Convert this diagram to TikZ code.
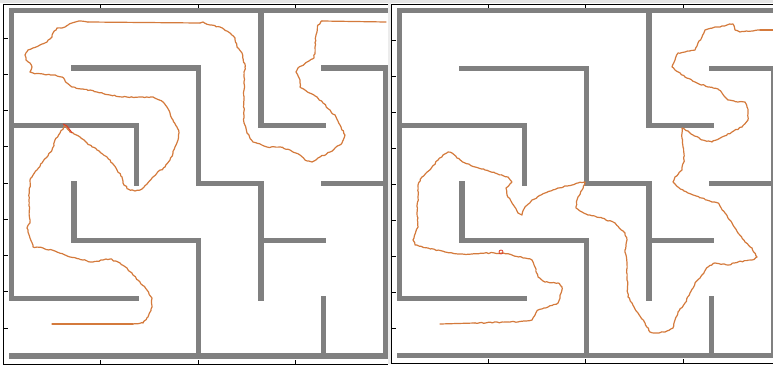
\documentclass[tikz,border=0pt]{standalone}
\usetikzlibrary{decorations.pathmorphing}
\definecolor{wallgray}{RGB}{128,128,128}
\definecolor{routeor}{RGB}{212,122,60}
\definecolor{markred}{RGB}{220,60,40}
\newcommand\drawmazewalls[1]{%
  \draw[wall] (#105) -- (#100) -- (#160);
  \draw[wall] (#106) -- (#166);
  \draw[wall] (#151) -- (#161) -- (#166);
  \draw[wall] (#111) -- (#131) -- (#133) -- (#143) -- (#145);
  \draw[wall] (#144) -- (#154);
  \draw[wall] (#102) -- (#122) -- (#123);
  \draw[wall] (#140) -- (#142) -- (#152);
  \draw[wall] (#153) -- (#163);
  \draw[wall] (#113) -- (#114) -- (#134) -- (#136);
  \draw[wall] (#105) -- (#125);
  \draw[wall] (#155) -- (#156);
}
\begin{document}
\begin{tikzpicture}[x=1pt,y=-1pt,
  wall/.style={line width=5.2pt, draw=wallgray, line cap=rect, line join=miter},
  axisline/.style={line width=0.7pt, draw=black},
  tickmark/.style={line width=0.7pt, draw=black},
  route/.style={draw=routeor, line width=1.2pt, line join=round, line cap=round},
  jag/.style={route, decorate, decoration={random steps, segment length=2.2pt, amplitude=0.6pt}}]
\pgfmathsetseed{7}
\path[use as bounding box] (0,0) rectangle (773,367);
\fill[white] (0,0) rectangle (773,367);
\fill[gray!20] (0,0) rectangle (773,2.5);
\fill[gray!15] (388.3,2.5) rectangle (390.8,364);

% grid points
\foreach \i in {0,...,6}{
  \foreach \j in {0,...,6}{
    \coordinate (p\i\j) at (11.7+62.3*\i, 10.3+57.6*\j);
    \coordinate (q\i\j) at (399.7+62.3*\i, 10.8+57.5*\j);
  }
}

% axes, left panel
\coordinate (la1) at (3.5,4.5);
\coordinate (la2) at (3.5,364);
\coordinate (la3) at (388.3,364);
\coordinate (la4) at (388.3,4.5);
\draw[axisline] (la4) -- (la1) -- (la2) -- (la3);
\foreach \t in {0,...,8} \draw[tickmark] (3.5,38+36.25*\t) -- ++(4.5,0);
\foreach \t in {100,198,295}{
  \draw[tickmark] (\t,4.5) -- ++(0,4.5);
  \draw[tickmark] (\t,364) -- ++(0,-4.5);
}
% axes, right panel
\coordinate (ra1) at (391.5,4.5);
\coordinate (ra2) at (391.5,363.8);
\coordinate (ra3) at (773,363.8);
\coordinate (ra4) at (773,4.5);
\draw[axisline] (ra4) -- (ra1) -- (ra2) -- (ra3);
\foreach \t in {0,...,8} \draw[tickmark] (391.5,40.5+35.94*\t) -- ++(4.5,0);
\foreach \t in {488,585.5,683}{
  \draw[tickmark] (\t,4.5) -- ++(0,4.5);
  \draw[tickmark] (\t,363.8) -- ++(0,-4.5);
}

% walls
\drawmazewalls{p}
\drawmazewalls{q}

% left route
\draw[route] (52,324) -- (133,324);
\draw[jag] (133,324) -- (143,323) -- (148,317) -- (152,307) -- (152,298) -- (147,290)
  -- (140,282) -- (133,275) -- (127,268) -- (120,263) -- (110,259) -- (103,260)
  -- (93,262) -- (83,260) -- (70,257) -- (57,252) -- (43,248) -- (33,247)
  -- (30,238) -- (27,228) -- (30,223) -- (29,200) -- (30,180) -- (32,177)
  -- (37,170) -- (42,163) -- (47,157) -- (52,150) -- (55,140) -- (60,133)
  -- (65,125) -- (70,132) -- (80,137) -- (87,143) -- (97,150) -- (107,157)
  -- (112,163) -- (117,170) -- (122,177) -- (123,183) -- (128,189) -- (135,191)
  -- (142,189) -- (147,184) -- (152,178) -- (157,173) -- (165,167) -- (170,160)
  -- (173,153) -- (175,147) -- (178,140) -- (179,133) -- (177,127) -- (173,120)
  -- (170,113) -- (167,107) -- (163,102) -- (153,97) -- (140,97) -- (123,97)
  -- (110,95) -- (97,92) -- (83,89) -- (72,87) -- (67,83) -- (62,77) -- (53,75)
  -- (43,74) -- (33,73) -- (30,72) -- (32,67) -- (30,63) -- (26,60) -- (25,55)
  -- (28,50) -- (33,48) -- (40,45) -- (47,42) -- (52,37) -- (53,33) -- (57,28)
  -- (62,28) -- (65,27) -- (68,25) -- (72,23) -- (80,21) -- (88,22);
\draw[route] (88,22) -- (200,23);
\draw[jag] (200,23) -- (203,22) -- (210,25) -- (220,27) -- (230,33) -- (235,38)
  -- (237,47) -- (242,53) -- (245,67) -- (244,77) -- (244,100) -- (244,123)
  -- (247,133) -- (253,142) -- (267,147) -- (280,147) -- (290,150) -- (300,155)
  -- (305,160) -- (312,162) -- (320,157) -- (330,152) -- (342,143) -- (345,135)
  -- (340,125) -- (336,117) -- (330,110) -- (323,103) -- (317,97) -- (305,90)
  -- (300,87) -- (300,80) -- (296,72) -- (298,68) -- (314,58) -- (315,47)
  -- (316,35) -- (318,25) -- (322,21);
\draw[route] (322,21) -- (386,22);
\draw[markred, line width=1pt] (63,124) -- (67,126) -- (70,130) -- (72,133);

% right route
\draw[route] (440,324) -- (475,323);
\draw[jag] (475,323) -- (505,322) -- (518,322) -- (532,320) -- (535,315) -- (538,310)
  -- (548,307) -- (558,303) -- (560,297) -- (562,287) -- (558,283) -- (545,282)
  -- (538,277) -- (535,267) -- (532,260) -- (525,258) -- (512,255) -- (502,253)
  -- (485,253) -- (472,254) -- (458,254) -- (445,252) -- (428,248) -- (415,245)
  -- (413,240) -- (418,227) -- (417,213) -- (418,197) -- (418,185) -- (422,177)
  -- (432,167) -- (438,160) -- (443,155) -- (448,152) -- (452,153) -- (457,158)
  -- (465,163) -- (475,167) -- (485,170) -- (495,173) -- (508,177) -- (512,182)
  -- (506,188) -- (507,195) -- (512,203) -- (518,213) -- (522,215) -- (525,207)
  -- (532,200) -- (545,193) -- (558,188) -- (572,185) -- (578,183) -- (585,182)
  -- (582,190) -- (577,200) -- (576,208) -- (582,212) -- (588,215) -- (602,218)
  -- (615,223) -- (625,233) -- (627,240) -- (625,250) -- (627,263) -- (627,280)
  -- (628,297) -- (632,303) -- (638,313) -- (645,323) -- (650,332) -- (655,333)
  -- (665,332) -- (673,328) -- (675,320) -- (678,312) -- (685,303) -- (690,293)
  -- (695,283) -- (702,275) -- (708,267) -- (715,263) -- (728,265) -- (738,262)
  -- (752,260) -- (757,257) -- (752,248) -- (745,242) -- (738,233) -- (732,223)
  -- (725,213) -- (718,203) -- (712,202) -- (702,198) -- (688,193) -- (678,187)
  -- (673,182) -- (675,177) -- (682,170) -- (684,160) -- (683,147) -- (682,133)
  -- (682,128) -- (688,131) -- (693,135) -- (702,140) -- (712,142) -- (722,137)
  -- (732,132) -- (742,127) -- (748,120) -- (748,113) -- (747,107) -- (745,102)
  -- (738,102) -- (728,100) -- (722,93) -- (718,89) -- (708,87) -- (695,82)
  -- (685,77) -- (675,70) -- (672,67) -- (675,60) -- (678,53) -- (685,52)
  -- (695,50) -- (698,43) -- (702,37) -- (705,30) -- (708,29) -- (715,27)
  -- (720,27) -- (727,25) -- (733,24) -- (735,30) -- (740,32) -- (753,31)
  -- (760,30);
\draw[route] (760,30) -- (774,30);
\draw[markred, line width=0.8pt] (501,252) circle (2);
\end{tikzpicture}
\end{document}
